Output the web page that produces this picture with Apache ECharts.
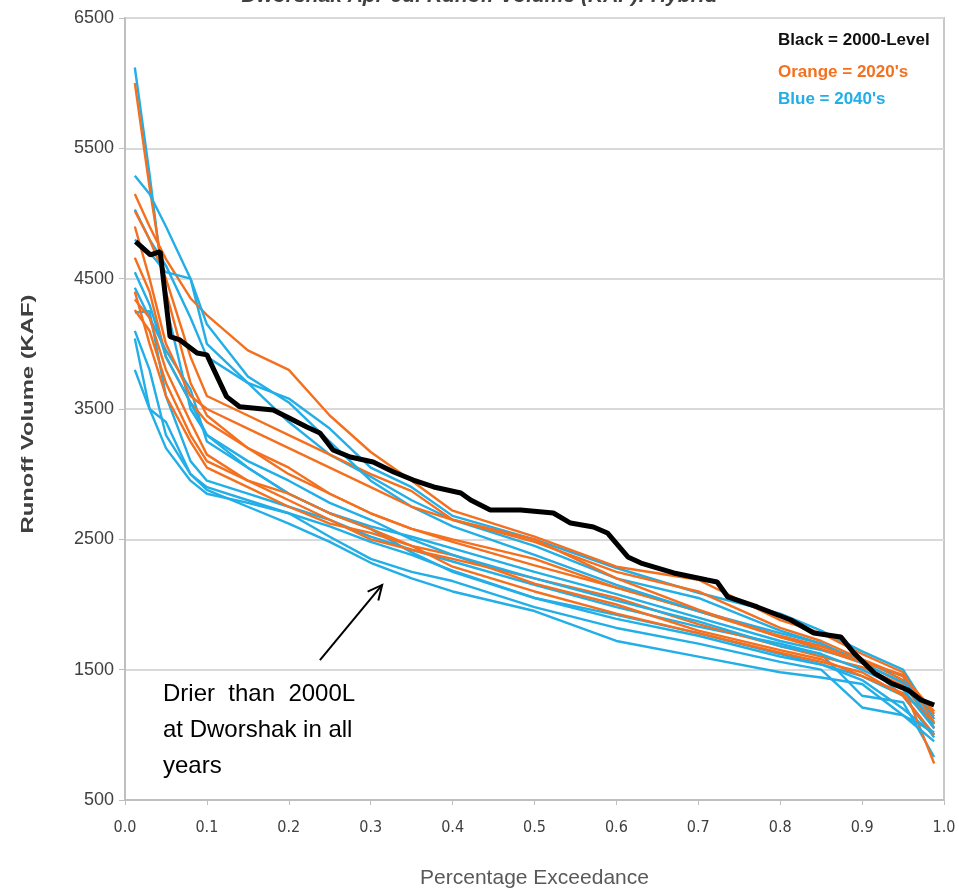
<!DOCTYPE html>
<html>
<head>
<meta charset="utf-8">
<title>Dworshak Apr-Jul Runoff Volume</title>
<script src="https://cdn.jsdelivr.net/npm/echarts@6/dist/echarts.min.js"></script>
<style>
    html, body { margin: 0; padding: 0; background: #fff; }
    #chart { width: 959px; height: 895px; }
</style>
</head>
<body>
<div id="chart"></div>
<script>

// Chart data
// ------------------------------

// Exceedance positions shared by the scenario traces
var exceedance = [0.012, 0.03, 0.05, 0.08, 0.1, 0.15, 0.2, 0.25, 0.3, 0.35, 0.4, 0.5, 0.6, 0.7, 0.8, 0.85, 0.9, 0.95, 0.988];

// 2000-Level (black)
var baseX = [0.013, 0.031, 0.043, 0.055, 0.067, 0.088, 0.1, 0.124, 0.14, 0.181, 0.198, 0.222, 0.238, 0.254, 0.275, 0.303, 0.328, 0.352, 0.377, 0.41, 0.422, 0.446, 0.483, 0.523, 0.544, 0.572, 0.589, 0.614, 0.63, 0.67, 0.711, 0.723, 0.736, 0.772, 0.813, 0.841, 0.874, 0.89, 0.915, 0.935, 0.956, 0.972, 0.988];
var baseY = [4784, 4682, 4707, 4055, 4030, 3930, 3915, 3595, 3518, 3492, 3439, 3362, 3316, 3185, 3132, 3093, 3017, 2955, 2902, 2856, 2802, 2725, 2725, 2702, 2625, 2595, 2549, 2365, 2318, 2242, 2188, 2173, 2058, 1981, 1881, 1781, 1751, 1628, 1474, 1398, 1344, 1267, 1229];

// 2020's (orange)
var orange1 = [6000, 5200, 4400, 3700, 3450, 3200, 3000, 2850, 2700, 2580, 2480, 2300, 2130, 1950, 1760, 1680, 1580, 1420, 1140];
var orange2 = [5150, 4900, 4650, 4350, 4220, 3950, 3800, 3450, 3170, 2950, 2720, 2520, 2290, 2190, 1880, 1780, 1620, 1480, 1090];
var orange3 = [5020, 4800, 4500, 3900, 3600, 3450, 3300, 3150, 3000, 2870, 2650, 2480, 2250, 2100, 1820, 1720, 1580, 1450, 1180];
var orange4 = [4660, 4400, 3900, 3550, 3400, 3200, 3050, 2850, 2700, 2580, 2500, 2350, 2130, 1950, 1750, 1660, 1550, 1400, 1050];
var orange5 = [4340, 4200, 3800, 3400, 3150, 2950, 2800, 2650, 2500, 2420, 2350, 2200, 2050, 1850, 1680, 1600, 1520, 1380, 780];
var orange6 = [4260, 4100, 3700, 3300, 3100, 2950, 2850, 2700, 2580, 2450, 2290, 2100, 1930, 1780, 1630, 1560, 1480, 1300, 1000];
var orange7 = [4400, 4000, 3600, 3250, 3050, 2900, 2750, 2620, 2550, 2450, 2380, 2160, 2000, 1800, 1650, 1580, 1450, 1320, 1100];
var orange8 = [4900, 4500, 4000, 3600, 3500, 3350, 3200, 3050, 2900, 2750, 2650, 2500, 2200, 1960, 1750, 1680, 1560, 1460, 1160];

// 2040's (blue)
var blue1 = [6120, 5300, 4300, 3500, 3300, 3050, 2850, 2700, 2580, 2400, 2250, 2050, 1920, 1780, 1620, 1540, 1420, 1200, 1000];
var blue2 = [5290, 5150, 4900, 4500, 4000, 3700, 3580, 3350, 3050, 2900, 2680, 2500, 2280, 2090, 1930, 1800, 1640, 1500, 1120];
var blue3 = [5030, 4800, 4600, 4200, 3900, 3700, 3400, 3150, 2980, 2800, 2650, 2450, 2200, 2050, 1800, 1700, 1560, 1450, 1050];
var blue4 = [4430, 4200, 3950, 3650, 3250, 3050, 2850, 2700, 2600, 2520, 2430, 2250, 2080, 1900, 1720, 1650, 1560, 1300, 980];
var blue5 = [4240, 4250, 3600, 3100, 2950, 2850, 2750, 2650, 2520, 2420, 2330, 2150, 1980, 1830, 1700, 1620, 1300, 1250, 830];
var blue6 = [4040, 3500, 3400, 3000, 2900, 2800, 2700, 2600, 2480, 2380, 2260, 2050, 1890, 1760, 1600, 1540, 1450, 1300, 1000];
var blue7 = [4800, 4700, 4550, 4500, 4150, 3750, 3550, 3250, 2950, 2750, 2600, 2380, 2150, 1950, 1780, 1700, 1550, 1400, 1080];
var blue8 = [3800, 3500, 3200, 2950, 2850, 2780, 2700, 2520, 2350, 2250, 2180, 1980, 1820, 1700, 1560, 1500, 1210, 1150, 950];
var blue9 = [4550, 4300, 3900, 3550, 3300, 3100, 2950, 2780, 2650, 2500, 2380, 2200, 2030, 1870, 1680, 1620, 1500, 1350, 1050];
var blue10 = [4100, 3800, 3300, 3000, 2880, 2750, 2620, 2480, 2320, 2200, 2100, 1950, 1720, 1600, 1480, 1440, 1390, 1150, 1020];

var orangeRuns = [orange1, orange2, orange3, orange4, orange5, orange6, orange7, orange8];
var blueRuns = [blue1, blue2, blue3, blue4, blue5, blue6, blue7, blue8, blue9, blue10];

// Annotation arrow (data coordinates: tail, tip)
var arrowTail = [0.238, 1574];
var arrowTip = [0.314, 2150];


// Setup chart
// ------------------------------

var ORANGE = '#f4701f';
var BLUE = '#22aee6';
var NARROW = '"DejaVu Sans Condensed", "Liberation Sans Narrow", "Arial Narrow", sans-serif';

var pairs = function(xs, ys) {
    return ys.map(function(v, i) { return [xs[i], v]; });
};

var traceSeries = function(name, values, color) {
    return {
        name: name,
        type: 'line',
        data: pairs(exceedance, values),
        symbol: 'none',
        silent: true,
        lineStyle: { color: color, width: 2.4 }
    };
};

var chartElement = document.getElementById('chart');
var chart = echarts.init(chartElement, null, { renderer: 'canvas' });

var series = [];
var maxRuns = Math.max(orangeRuns.length, blueRuns.length);
for (var i = 0; i < maxRuns; i++) {
    if (blueRuns[i]) series.push(traceSeries('2040s-' + (i + 1), blueRuns[i], BLUE));
    if (orangeRuns[i]) series.push(traceSeries('2020s-' + (i + 1), orangeRuns[i], ORANGE));
}
series.push({
    name: '2000-Level',
    type: 'line',
    data: pairs(baseX, baseY),
    symbol: 'none',
    silent: true,
    lineStyle: { color: '#000', width: 5 }
});

chart.setOption({
    animation: false,
    textStyle: {
        fontFamily: 'Liberation Sans, Arial, sans-serif'
    },

    grid: {
        left: 125,
        right: 15,
        top: 18,
        bottom: 95,
        show: true,
        borderColor: '#c8c8c8',
        borderWidth: 2
    },

    xAxis: {
        type: 'value',
        min: 0,
        max: 1,
        interval: 0.1,
        name: 'Percentage Exceedance',
        nameLocation: 'middle',
        nameGap: 68,
        nameTextStyle: {
            fontSize: 21,
            color: '#595959',
            fontFamily: 'Liberation Sans, Arial, sans-serif'
        },
        axisLine: { lineStyle: { color: '#bfbfbf', width: 2 } },
        axisTick: { show: true, length: 5, lineStyle: { color: '#bfbfbf' } },
        axisLabel: {
            margin: 20,
            fontSize: 16,
            color: '#404040',
            fontFamily: NARROW,
            formatter: function(v) { return v.toFixed(1); }
        },
        splitLine: { show: false }
    },

    yAxis: {
        type: 'value',
        min: 500,
        max: 6500,
        interval: 1000,
        axisLine: { show: true, lineStyle: { color: '#bfbfbf', width: 2 } },
        axisTick: { show: true, length: 6, lineStyle: { color: '#bfbfbf' } },
        axisLabel: {
            margin: 11,
            fontSize: 18,
            color: '#404040',
            formatter: function(v) { return String(v); }
        },
        splitLine: { lineStyle: { color: '#d9d9d9', width: 2 } }
    },

    series: series
});


// Title, axis name, legend text and annotation
// ------------------------------

var tail = chart.convertToPixel({ gridIndex: 0 }, arrowTail);
var tip = chart.convertToPixel({ gridIndex: 0 }, arrowTip);
var ang = Math.atan2(tip[1] - tail[1], tip[0] - tail[0]);
var headLen = 16, headSpread = 0.45;
var head = [
    [tip[0] - headLen * Math.cos(ang - headSpread), tip[1] - headLen * Math.sin(ang - headSpread)],
    tip,
    [tip[0] - headLen * Math.cos(ang + headSpread), tip[1] - headLen * Math.sin(ang + headSpread)]
];

var legendFont = 'bold 17px "Liberation Sans", Arial, sans-serif';

chart.setOption({
    graphic: [
        {
            type: 'text',
            left: 'center',
            top: -14,
            style: {
                text: 'Dworshak Apr-Jul Runoff Volume (KAF): Hybrid',
                fill: '#404040',
                font: 'italic bold 21px "Liberation Sans", Arial, sans-serif'
            }
        },
        {
            type: 'text',
            x: 28,
            y: 414,
            rotation: Math.PI / 2,
            scaleX: 1.4,
            style: {
                text: 'Runoff Volume (KAF)',
                fill: '#404040',
                align: 'center',
                verticalAlign: 'middle',
                font: 'bold 17px "Liberation Sans", Arial, sans-serif'
            }
        },
        {
            type: 'text',
            left: 778,
            top: 32,
            style: { text: 'Black = 2000-Level', fill: '#111', font: legendFont }
        },
        {
            type: 'text',
            left: 778,
            top: 64,
            style: { text: "Orange = 2020's", fill: ORANGE, font: legendFont }
        },
        {
            type: 'text',
            left: 778,
            top: 91,
            style: { text: "Blue = 2040's", fill: BLUE, font: legendFont }
        },
        {
            type: 'text',
            left: 163,
            top: 676,
            style: {
                text: 'Drier  than  2000L\nat Dworshak in all\nyears',
                fill: '#000',
                lineHeight: 36,
                font: '24px "Liberation Sans", Arial, sans-serif'
            }
        },
        {
            type: 'line',
            shape: { x1: tail[0], y1: tail[1], x2: tip[0], y2: tip[1] },
            style: { stroke: '#000', lineWidth: 2 }
        },
        {
            type: 'polyline',
            shape: { points: head },
            style: { stroke: '#000', lineWidth: 2, fill: null }
        }
    ]
});

window.addEventListener('resize', function() {
    chart.resize();
});
</script>
</body>
</html>
